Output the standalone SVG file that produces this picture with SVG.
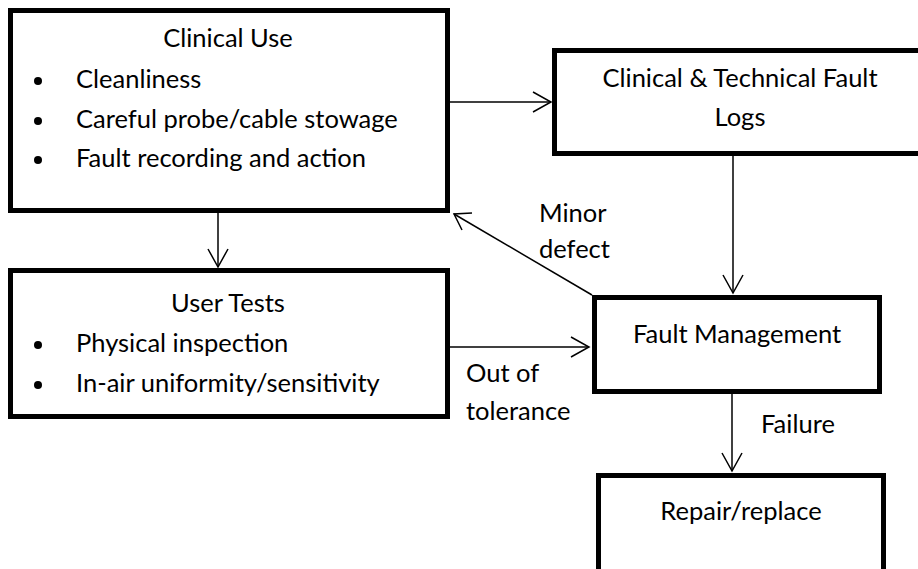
<svg xmlns="http://www.w3.org/2000/svg" width="918" height="569" viewBox="0 0 918 569">
<defs>
<style>
.box{fill:#fff;stroke:#000;stroke-width:5}
.t{font-family:Lato,"Liberation Sans",sans-serif;font-size:25.5px;fill:#000}
.c{text-anchor:middle}
.ln{stroke:#000;stroke-width:1.5;fill:none}
.ah{stroke:#000;stroke-width:1.5;fill:none}
</style>
</defs>
<rect width="918" height="569" fill="#fff"/>
<g id="clinical-use">
<rect class="box" x="10.5" y="10.5" width="437" height="200"/>
<text class="t c" x="228" y="47">Clinical Use</text>
<circle cx="38" cy="81" r="4"/>
<circle cx="38" cy="121" r="4"/>
<circle cx="38" cy="160" r="4"/>
<text class="t" x="76" y="88">Cleanliness</text>
<text class="t" x="76" y="128">Careful probe/cable stowage</text>
<text class="t" x="76" y="167">Fault recording and action</text>
</g>
<g id="fault-logs">
<rect class="box" x="554.5" y="50.5" width="380" height="103"/>
<text class="t c" x="740" y="87">Clinical &amp; Technical Fault</text>
<text class="t c" x="740" y="126">Logs</text>
</g>
<g id="user-tests">
<rect class="box" x="10.5" y="270.5" width="437" height="146"/>
<text class="t c" x="228" y="312">User Tests</text>
<circle cx="38" cy="345" r="4"/>
<circle cx="38" cy="385" r="4"/>
<text class="t" x="76" y="352">Physical inspection</text>
<text class="t" x="76" y="392">In-air uniformity/sensitivity</text>
</g>
<g id="fault-management">
<rect class="box" x="594.5" y="297.5" width="285" height="94"/>
<text class="t c" x="737" y="343">Fault Management</text>
</g>
<g id="repair-replace">
<rect class="box" x="598.5" y="475.5" width="285" height="110"/>
<text class="t c" x="741" y="520">Repair/replace</text>
</g>
<g id="connectors">
<line class="ln" x1="450" y1="102" x2="551" y2="102"/>
<polyline class="ah" points="533,92 551,102 533,112"/>
<line class="ln" x1="218" y1="213" x2="218" y2="267"/>
<polyline class="ah" points="208,249 218,267 228,249"/>
<line class="ln" x1="733" y1="156" x2="733" y2="293"/>
<polyline class="ah" points="723,275 733,293 743,275"/>
<line class="ln" x1="592" y1="295" x2="454" y2="214"/>
<polyline class="ah" points="472,213 454,214 462,230"/>
<line class="ln" x1="450" y1="347" x2="589" y2="347"/>
<polyline class="ah" points="571,337 589,347 571,357"/>
<line class="ln" x1="732" y1="394" x2="732" y2="471"/>
<polyline class="ah" points="722,453 732,471 742,453"/>
<text class="t" x="539" y="222">Minor</text>
<text class="t" x="539" y="258">defect</text>
<text class="t" x="466" y="382">Out of</text>
<text class="t" x="466" y="420">tolerance</text>
<text class="t" x="761" y="433">Failure</text>
</g>
</svg>
